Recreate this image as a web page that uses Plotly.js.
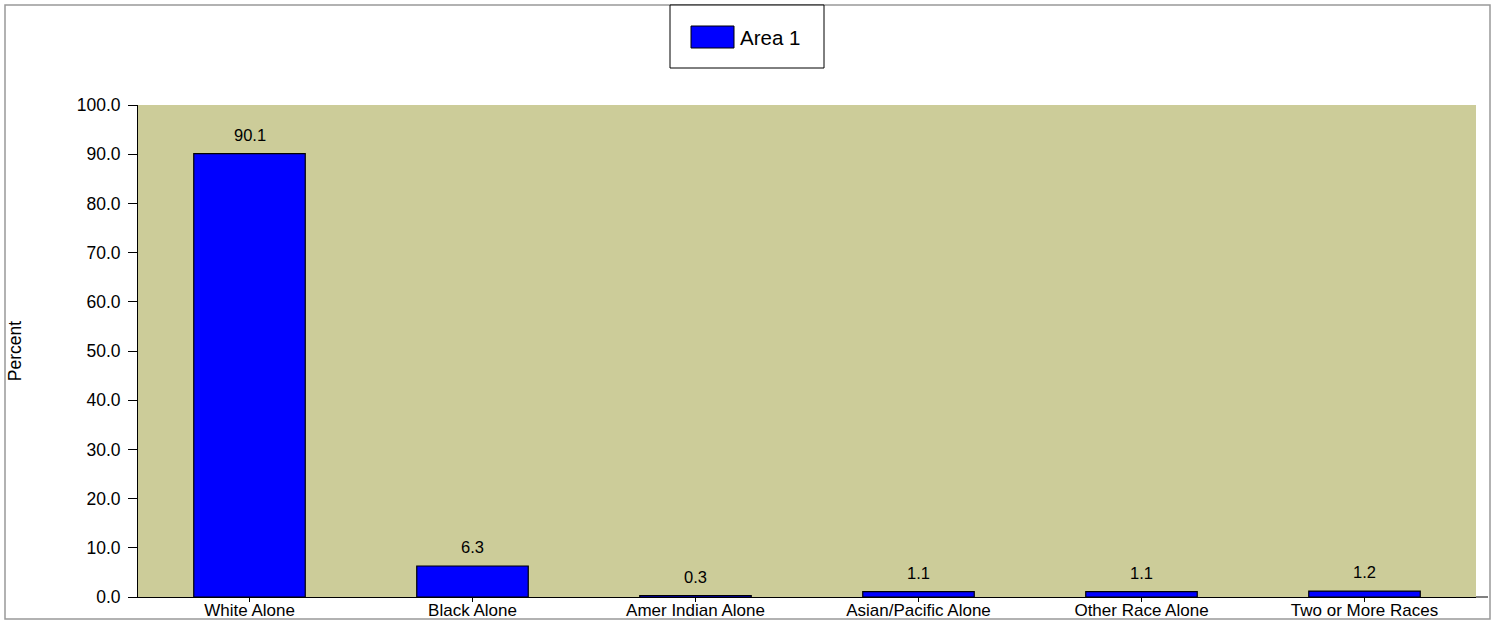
<!DOCTYPE html>
<html>
<head>
<meta charset="utf-8">
<script src="https://cdn.plot.ly/plotly-3.0.1.min.js"></script>
<style>html,body{margin:0;padding:0;background:#fff;}#chart{width:1498px;height:622px;}</style>
</head>
<body>
<div id="chart"></div>
<script>
const categories = ["White Alone", "Black Alone", "Amer Indian Alone", "Asian/Pacific Alone", "Other Race Alone", "Two or More Races"];
const values = [90.1, 6.3, 0.3, 1.1, 1.1, 1.2];
const seriesName = "Area 1";
const yTickVals = [0, 10, 20, 30, 40, 50, 60, 70, 80, 90, 100];
const yTickText = ["0.0", "10.0", "20.0", "30.0", "40.0", "50.0", "60.0", "70.0", "80.0", "90.0", "100.0"];

const font = "Liberation Sans, Arial, sans-serif";

const trace = {
  type: "bar",
  x: categories,
  y: values,
  name: seriesName,
  marker: {color: "#0000FF", line: {color: "#000", width: 1.2}},
  showlegend: false,
  hoverinfo: "x+y"
};

const valueLabels = categories.map((c, i) => ({
  x: c, y: values[i], xref: "x", yref: "y",
  text: values[i].toFixed(1), showarrow: false,
  xanchor: "center", yanchor: "bottom", yshift: 8,
  font: {family: font, size: 16.5, color: "#000"}
}));

const layout = {
  width: 1498, height: 622,
  margin: {l: 138, r: 22, t: 105, b: 25, pad: 0},
  paper_bgcolor: "#fff",
  plot_bgcolor: "#CCCC99",
  bargap: 0.5,
  font: {family: font, size: 17, color: "#000"},
  xaxis: {
    type: "category",
    showgrid: false,
    zeroline: false,
    showline: true, linecolor: "#000", linewidth: 1,
    ticks: "outside", ticklen: 4, tickcolor: "#000",
    ticklabelstandoff: -6,
    tickfont: {family: font, size: 17, color: "#000"},
    fixedrange: true
  },
  yaxis: {
    range: [0, 100],
    showgrid: false,
    zeroline: false,
    showline: true, linecolor: "#000", linewidth: 1,
    ticks: "outside", ticklen: 9, tickcolor: "#000",
    ticklabelstandoff: 4,
    tickvals: yTickVals, ticktext: yTickText,
    tickfont: {family: font, size: 17.5, color: "#000"},
    title: {text: "Percent", font: {family: font, size: 17.5, color: "#000"}, standoff: 50},
    fixedrange: true
  },
  shapes: [
    {type: "rect", xref: "paper", yref: "paper",
     x0: (5 - 138) / 1338, x1: (1490 - 138) / 1338,
     y0: (597 - 619) / 492, y1: (597 - 5) / 492,
     line: {color: "#999", width: 1.5}, fillcolor: "rgba(0,0,0,0)", layer: "below"},
    {type: "line", xref: "paper", yref: "paper",
     x0: 1, x1: (1488 - 138) / 1338, y0: 0, y1: 0,
     line: {color: "#000", width: 1}},
    {type: "rect", xref: "paper", yref: "paper",
     x0: (670 - 138) / 1338, x1: (824 - 138) / 1338,
     y0: (597 - 68) / 492, y1: (597 - 5) / 492,
     line: {color: "#000", width: 1}, fillcolor: "#fff"},
    {type: "rect", xref: "paper", yref: "paper",
     x0: (691 - 138) / 1338, x1: (734 - 138) / 1338,
     y0: (597 - 48) / 492, y1: (597 - 26) / 492,
     line: {color: "#000", width: 1}, fillcolor: "#0000FF"}
  ],
  annotations: valueLabels.concat([
    {xref: "paper", yref: "paper",
     x: (738 - 138) / 1338, y: (597 - 37) / 492,
     xanchor: "left", yanchor: "middle",
     text: seriesName, showarrow: false,
     font: {family: font, size: 20.5, color: "#000"}}
  ])
};

Plotly.newPlot("chart", [trace], layout, {displayModeBar: false, staticPlot: true});
</script>
</body>
</html>
